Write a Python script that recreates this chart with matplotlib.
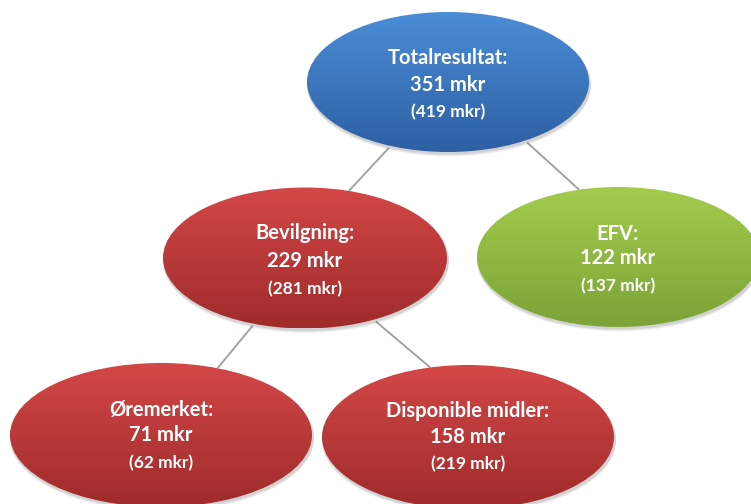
import numpy as np
import matplotlib.pyplot as plt
from matplotlib.colors import to_rgb
from matplotlib.patches import Ellipse

# nodes in the tree (pixel layout of a 751x504 canvas)
titles = ["Totalresultat:", "Bevilgning:", "EFV:", "Øremerket:", "Disponible midler:"]
values = ["351 mkr", "229 mkr", "122 mkr", "71 mkr", "158 mkr"]
previous = ["(419 mkr)", "(281 mkr)", "(137 mkr)", "(62 mkr)", "(219 mkr)"]
cx = [448, 305, 618, 161, 468]
cy = [82, 258, 257, 435, 437]
w = [282, 284, 282, 302, 292]
h = [140, 141, 140, 144, 144]
colors = ["blue", "red", "green", "red", "red"]
text_y = [(58, 85, 112), (233, 261, 289), (234, 258, 286), (410, 435, 463), (411, 437, 464)]

# connectors: (from node, angle on its edge, to node, angle on its edge)
links = [(0, 114, 1, -72), (0, 57, 2, -106), (1, 111, 3, -68), (1, 61, 4, -105)]

grad = {"blue": ("#4b8dd7", "#2d5fa3"),
        "red": ("#d44747", "#9f2b2b"),
        "green": ("#a3cc4d", "#7ba337")}

plt.rcParams['font.family'] = ['Lato', 'DejaVu Sans']
fig = plt.figure(figsize=(7.51, 5.04), dpi=100)
ax = fig.add_axes([0, 0, 1, 1])
ax.set_xlim(0, 751)
ax.set_ylim(504, 0)
ax.axis('off')


def edge(i, ang, r=1.0):
    a = np.radians(ang)
    return (cx[i] + r * w[i] / 2 * np.cos(a), cy[i] + r * h[i] / 2 * np.sin(a))


for a, aa, b, ba in links:
    p1 = edge(a, aa, 1.03)
    p2 = edge(b, ba, 1.0)
    ax.plot([p1[0], p2[0]], [p1[1], p2[1]], color="#a3a3a3", lw=1.4, zorder=1,
            solid_capstyle='butt')

for i in range(len(titles)):
    # soft shadow under each node
    for k, al in [(4, 0.05), (3, 0.06), (2, 0.07)]:
        sh = Ellipse((cx[i] + 1, cy[i] + k), w[i] + 2, h[i] + 1, color="#000000",
                     alpha=al, lw=0, zorder=2)
        ax.add_patch(sh)
    top, bot = grad[colors[i]]
    c1 = np.array(to_rgb(top))
    c2 = np.array(to_rgb(bot))
    t = np.linspace(0, 1, 200)[:, None]
    img = (c1 * (1 - t) + c2 * t)[:, None, :]
    x0, x1 = cx[i] - w[i] / 2, cx[i] + w[i] / 2
    y0, y1 = cy[i] - h[i] / 2, cy[i] + h[i] / 2
    im = ax.imshow(img, extent=(x0, x1, y1, y0), aspect='auto', zorder=3,
                   interpolation='bilinear')
    clip = Ellipse((cx[i], cy[i]), w[i], h[i], transform=ax.transData,
                   facecolor='none', lw=0)
    ax.add_patch(clip)
    im.set_clip_path(clip)
    ax.text(cx[i], text_y[i][0], titles[i], color="white", fontsize=14.5, fontweight='bold',
            ha='center', va='center', zorder=4)
    ax.text(cx[i], text_y[i][1], values[i], color="white", fontsize=14.5, fontweight='bold',
            ha='center', va='center', zorder=4)
    ax.text(cx[i], text_y[i][2], previous[i], color="white", fontsize=12.5, fontweight='bold',
            ha='center', va='center', zorder=4)

ax.set_xlim(0, 751)
ax.set_ylim(504, 0)
fig.savefig("out.png", dpi=100)
